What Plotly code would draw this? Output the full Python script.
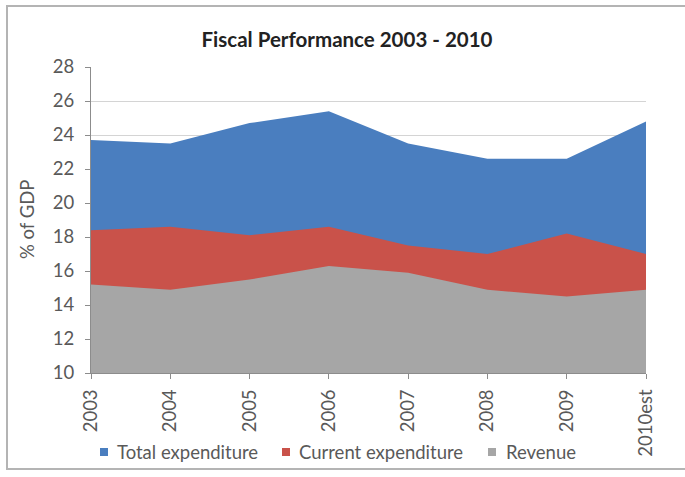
import plotly.graph_objects as go

# Fiscal performance, % of GDP
years = ["2003", "2004", "2005", "2006", "2007", "2008", "2009", "2010est"]
total_expenditure = [23.7, 23.5, 24.7, 25.4, 23.5, 22.6, 22.6, 24.8]
current_expenditure = [18.4, 18.6, 18.1, 18.6, 17.5, 17.0, 18.2, 17.0]
revenue = [15.2, 14.9, 15.5, 16.3, 15.9, 14.9, 14.5, 14.9]

series_names = ["Total expenditure", "Current expenditure", "Revenue"]
series_colors = ["#4a7ebf", "#c9524a", "#a6a6a6"]
series_values = [total_expenditure, current_expenditure, revenue]

W, H = 685, 477
L, R, T, B = 91, 646, 67, 373  # plot area in pixels

FONT = "Lato"
TEXT_GREY = "#595959"
TICK_SIZE = 18.5


def px_x(px):
    return (px - L) / (R - L)


def px_y(py):
    return (B - py) / (B - T)


fig = go.Figure()
for name, color, vals in zip(series_names, series_colors, series_values):
    fig.add_trace(go.Scatter(
        x=years, y=vals, name=name, mode="lines",
        line=dict(color=color, width=0),
        fill="tozeroy", fillcolor=color,
        showlegend=False, hoverinfo="x+y+name",
    ))

# Legend drawn as small squares followed by labels
legend_items = [(100, 115), (282, 297), (488, 504)]
shapes = []
annotations = []
for (sq_x, txt_x), name, color in zip(legend_items, series_names, series_colors):
    shapes.append(dict(type="rect", xref="paper", yref="paper",
                       x0=px_x(sq_x), x1=px_x(sq_x + 8),
                       y0=px_y(456), y1=px_y(448),
                       fillcolor=color, line=dict(width=0)))
    annotations.append(dict(xref="paper", yref="paper", x=px_x(txt_x), y=px_y(452),
                            xanchor="left", yanchor="middle", showarrow=False,
                            text=name, font=dict(family=FONT, size=TICK_SIZE, color=TEXT_GREY)))

# Chart frame
shapes.append(dict(type="rect", xref="paper", yref="paper",
                   x0=px_x(7), x1=px_x(720), y0=px_y(469), y1=px_y(6),
                   line=dict(color="#b4b4b4", width=2), fillcolor="rgba(0,0,0,0)",
                   layer="below"))

annotations.append(dict(xref="paper", yref="paper", x=px_x(27), y=0.5,
                        xanchor="center", yanchor="middle", showarrow=False,
                        textangle=-90, text="% of GDP",
                        font=dict(family=FONT, size=TICK_SIZE, color=TEXT_GREY)))

fig.update_layout(
    width=W, height=H,
    margin=dict(l=L, r=W - R, t=T, b=H - B),
    paper_bgcolor="white", plot_bgcolor="white",
    title=dict(text="<b>Fiscal Performance 2003 - 2010</b>",
               x=px_x(347), xref="paper", xanchor="center",
               y=1 - 40 / H, yanchor="middle",
               font=dict(family=FONT, size=20.5, color="#222222")),
    xaxis=dict(type="category", range=[0, len(years) - 1],
               showgrid=False, showline=True, linecolor="#8c8c8c", linewidth=1,
               ticks="outside", ticklen=5, tickcolor="#8c8c8c",
               tickangle=-90, ticklabelstandoff=3,
               tickfont=dict(family=FONT, size=TICK_SIZE, color=TEXT_GREY),
               zeroline=False),
    yaxis=dict(range=[10, 28], dtick=2, showgrid=True, gridcolor="#d4d4d4", gridwidth=1,
               showline=True, linecolor="#8c8c8c", linewidth=1,
               ticks="outside", ticklen=5, tickcolor="#8c8c8c",
               ticklabelstandoff=7,
               tickfont=dict(family=FONT, size=TICK_SIZE, color=TEXT_GREY),
               zeroline=False),
    shapes=shapes, annotations=annotations,
    showlegend=False,
)

fig.write_html("out.html")
